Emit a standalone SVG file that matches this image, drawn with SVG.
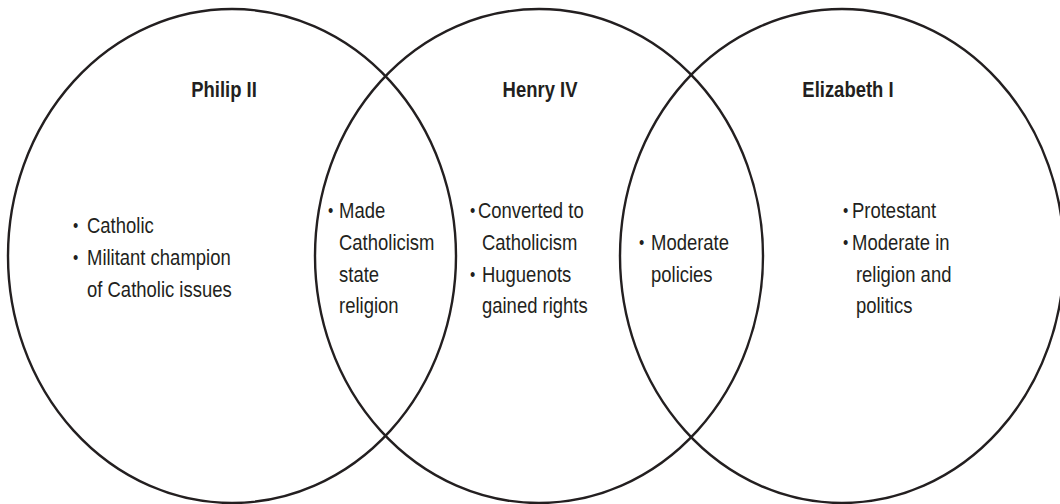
<svg xmlns="http://www.w3.org/2000/svg" width="1060" height="504" viewBox="0 0 1060 504">
  <style>
    .ring { fill: none; stroke: #231f20; stroke-width: 2.4; }
    text { font-family: "Liberation Sans", Arial, sans-serif; font-size: 22px; fill: #231f20; }
    .title { font-weight: bold; text-anchor: middle; }
    .b { font-size: 18px; }
  </style>
  <rect width="1060" height="504" fill="#ffffff"/>
  <g id="circles">
    <ellipse id="circle-philip" class="ring" cx="232" cy="256" rx="224" ry="247"/>
    <ellipse id="circle-henry" class="ring" cx="539" cy="256" rx="224" ry="247"/>
    <ellipse id="circle-elizabeth" class="ring" cx="842" cy="256" rx="222" ry="247"/>
  </g>
  <g id="philip" transform="scale(0.84 1)">
    <text class="title" x="266.7" y="97">Philip II</text>
    <text class="b" x="86.9" y="232">•</text>
    <text x="103.6" y="233">Catholic</text>
    <text class="b" x="86.9" y="264">•</text>
    <text x="103.6" y="265">Militant champion</text>
    <text x="103.6" y="297">of Catholic issues</text>
  </g>
  <g id="philip-henry" transform="scale(0.84 1)">
    <text class="b" x="390.5" y="217">•</text>
    <text x="403.6" y="218">Made</text>
    <text x="403.6" y="250">Catholicism</text>
    <text x="403.6" y="282">state</text>
    <text x="403.6" y="313">religion</text>
  </g>
  <g id="henry" transform="scale(0.84 1)">
    <text class="title" x="642.9" y="97">Henry IV</text>
    <text class="b" x="559.5" y="217">•</text>
    <text x="569" y="218">Converted to</text>
    <text x="573.8" y="250">Catholicism</text>
    <text class="b" x="559.5" y="281">•</text>
    <text x="573.8" y="282">Huguenots</text>
    <text x="573.8" y="313">gained rights</text>
  </g>
  <g id="henry-elizabeth" transform="scale(0.84 1)">
    <text class="b" x="760.7" y="249">•</text>
    <text x="775" y="250">Moderate</text>
    <text x="775" y="282">policies</text>
  </g>
  <g id="elizabeth" transform="scale(0.84 1)">
    <text class="title" x="1009.5" y="97">Elizabeth I</text>
    <text class="b" x="1003.6" y="217">•</text>
    <text x="1014.3" y="218">Protestant</text>
    <text class="b" x="1003.6" y="249">•</text>
    <text x="1014.3" y="250">Moderate in</text>
    <text x="1019" y="282">religion and</text>
    <text x="1019" y="313">politics</text>
  </g>
</svg>
